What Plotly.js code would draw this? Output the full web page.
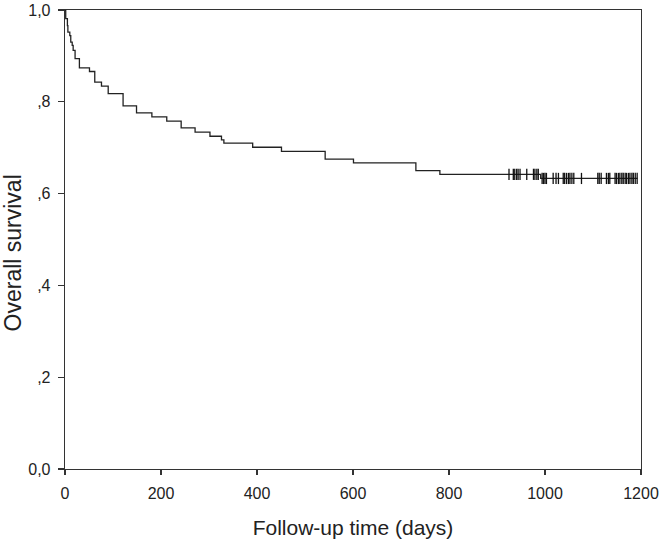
<!DOCTYPE html>
<html>
<head>
<meta charset="utf-8">
<script src="https://cdn.plot.ly/plotly-3.0.1.min.js"></script>
<style>html,body{margin:0;padding:0;background:#fff;}</style>
</head>
<body>
<div id="km" style="width:660px;height:544px;"></div>
<script>
// Kaplan-Meier estimate
var eventDays = [1.5, 5, 6, 10, 12, 15, 17, 21, 30, 51, 62, 76, 90, 121, 149, 181, 212, 242, 271, 302, 326, 331, 391, 451, 542, 601, 731, 781, 991];
var survival  = [0.981, 0.966, 0.952, 0.944, 0.930, 0.923, 0.912, 0.894, 0.874, 0.866, 0.843, 0.834, 0.818, 0.791, 0.776, 0.767, 0.758, 0.743, 0.734, 0.725, 0.717, 0.710, 0.701, 0.692, 0.675, 0.667, 0.650, 0.642, 0.633];
var censorDays = [925, 934, 937, 941, 944, 948, 962, 976, 979, 983, 986, 994, 997, 1000, 1003, 1017, 1023, 1028, 1038, 1041, 1045, 1049, 1052, 1056, 1060, 1076, 1110, 1113, 1117, 1128, 1132, 1135, 1146, 1149, 1153, 1156, 1160, 1163, 1167, 1170, 1174, 1177, 1181, 1184, 1188, 1192];
var lastFollowUp = 1193;

var xTickVals = [0, 200, 400, 600, 800, 1000, 1200];
var yTickVals = [0, 0.2, 0.4, 0.6, 0.8, 1.0];
var yTickText = ['0,0', ',2', ',4', ',6', ',8', '1,0'];

function levelAt(t) {
  var s = 1;
  for (var i = 0; i < eventDays.length; i++) {
    if (eventDays[i] <= t) s = survival[i];
  }
  return s;
}

var stepX = [0].concat(eventDays, [lastFollowUp]);
var stepY = [1].concat(survival, [survival[survival.length - 1]]);

var curve = {
  x: stepX, y: stepY,
  type: 'scatter', mode: 'lines',
  line: {shape: 'hv', color: '#222', width: 1.3},
  hoverinfo: 'skip', showlegend: false
};
var censored = {
  x: censorDays,
  y: censorDays.map(levelAt),
  type: 'scatter', mode: 'markers',
  marker: {symbol: 'line-ns', size: 8, line: {color: '#111', width: 1.3}},
  hoverinfo: 'skip', showlegend: false, cliponaxis: false
};

var font = 'Liberation Sans, Arial, sans-serif';
var layout = {
  width: 660, height: 544,
  margin: {l: 65, r: 19, t: 10, b: 75},
  paper_bgcolor: '#fff', plot_bgcolor: '#fff',
  font: {family: font, color: '#222'},
  xaxis: {
    range: [0, 1200], tickvals: xTickVals,
    ticks: 'outside', ticklen: 5, tickwidth: 1.3, tickcolor: '#333',
    showgrid: false, zeroline: false,
    showline: true, mirror: true, linecolor: '#333', linewidth: 1.3,
    tickfont: {family: font, size: 16, color: '#222'},
    ticklabelstandoff: 4,
    title: {text: 'Follow-up time (days)', font: {family: font, size: 21, color: '#222'}, standoff: 19},
    automargin: false
  },
  yaxis: {
    range: [0, 1], tickvals: yTickVals, ticktext: yTickText,
    ticks: 'outside', ticklen: 6, tickwidth: 1.3, tickcolor: '#333',
    showgrid: false, zeroline: false,
    showline: true, mirror: true, linecolor: '#333', linewidth: 1.3,
    tickfont: {family: font, size: 16, color: '#222'},
    ticklabelstandoff: 4,
    automargin: false
  },
  annotations: [{
    text: 'Overall survival', textangle: -90,
    xref: 'paper', yref: 'paper', x: -0.09, y: 0.47,
    xanchor: 'center', yanchor: 'middle', showarrow: false,
    font: {family: font, size: 23, color: '#222'}
  }]
};

Plotly.newPlot('km', [curve, censored], layout, {displayModeBar: false, staticPlot: true});
</script>
</body>
</html>
